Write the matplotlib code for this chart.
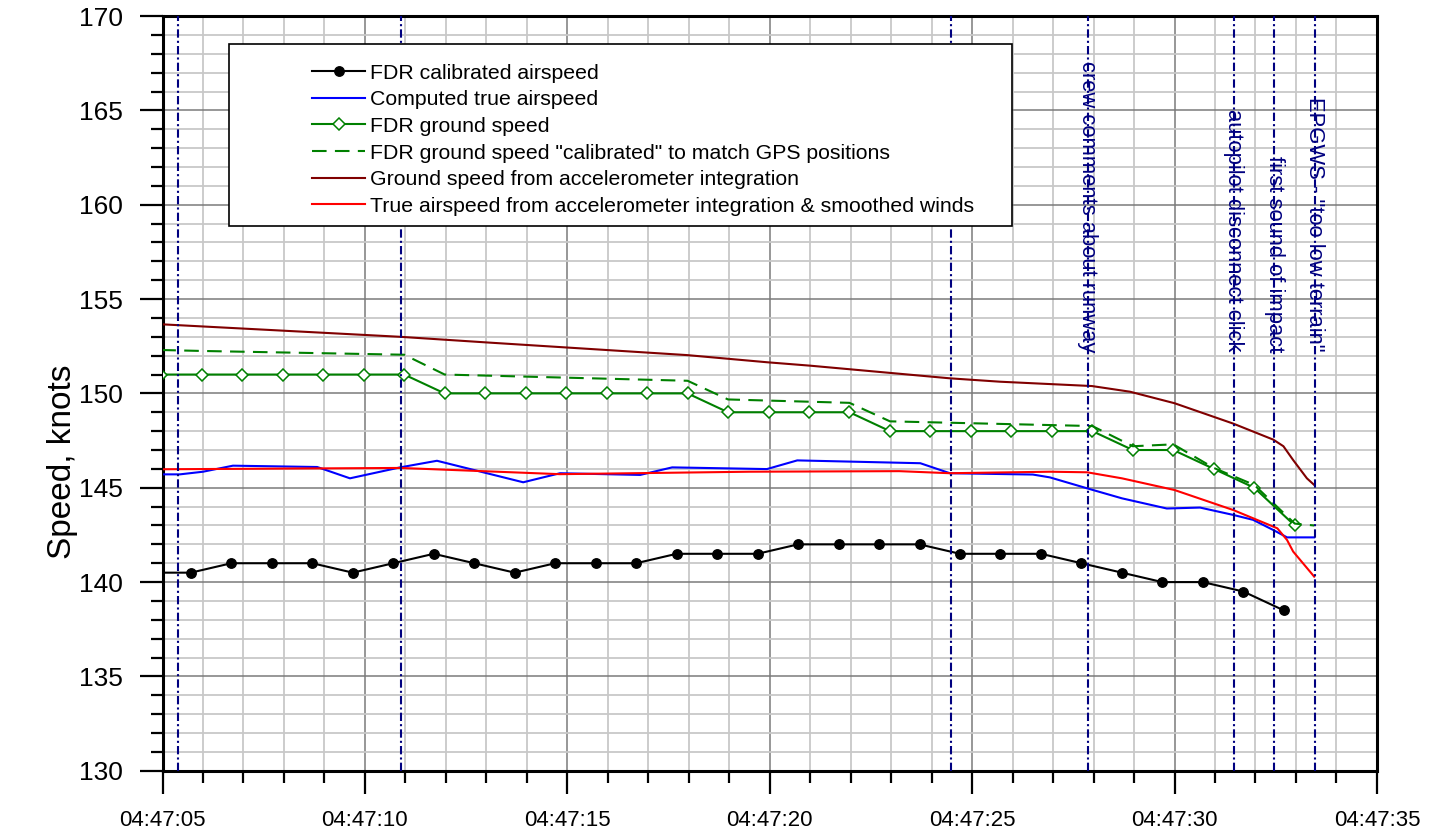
import matplotlib
matplotlib.use('Agg')
import matplotlib.pyplot as plt
from matplotlib.ticker import MultipleLocator, FuncFormatter
from matplotlib.patches import Rectangle

plt.rcParams['font.family'] = ['Liberation Sans', 'DejaVu Sans']

# time is seconds after 04:47:00
cas_t = [4.7, 5.7, 6.7, 7.7, 8.7, 9.7, 10.7, 11.7, 12.7, 13.7, 14.7, 15.7, 16.7, 17.7, 18.7,
         19.7, 20.7, 21.7, 22.7, 23.7, 24.7, 25.7, 26.7, 27.7, 28.7, 29.7, 30.7, 31.7, 32.7]
cas = [140.5, 140.5, 141, 141, 141, 140.5, 141, 141.5, 141, 140.5, 141, 141, 141, 141.5, 141.5,
       141.5, 142, 142, 142, 142, 141.5, 141.5, 141.5, 141, 140.5, 140, 140, 139.5, 138.5]

tas_t = [5.0, 5.43, 6.0, 6.74, 8.82, 9.63, 10.87, 11.78, 13.91, 14.82, 16.8, 17.59, 19.93, 20.68,
         23.72, 24.45, 26.5, 26.92, 27.84, 28.7, 29.81, 30.63, 31.45, 31.94, 32.44, 32.78, 33.45]
tas = [145.71, 145.71, 145.85, 146.17, 146.1, 145.5, 146.08, 146.43, 145.29, 145.77, 145.68, 146.08,
       145.99, 146.45, 146.3, 145.77, 145.7, 145.55, 144.97, 144.44, 143.9, 143.95, 143.56, 143.3,
       142.76, 142.37, 142.37]

gs_t = [4.97, 5.97, 6.97, 7.97, 8.97, 9.97, 10.97, 11.97, 12.97, 13.97, 14.97, 15.97, 16.97, 17.97,
        18.97, 19.97, 20.97, 21.97, 22.97, 23.97, 24.97, 25.97, 26.97, 27.97, 28.97, 29.97, 30.97,
        31.97, 32.97]
gs = [151, 151, 151, 151, 151, 151, 151, 150, 150, 150, 150, 150, 150, 150,
      149, 149, 149, 149, 148, 148, 148, 148, 148, 148, 147, 147, 146, 145, 143]

gs_cal_t = [4.97, 5.97, 10.97, 11.97, 17.97, 18.97, 21.97, 22.97, 27.97, 28.97, 29.97, 30.97,
            31.97, 32.97, 33.45]
gs_cal = [152.3, 152.25, 152.05, 151.0, 150.67, 149.68, 149.5, 148.52, 148.27, 147.2, 147.3,
          146.05, 145.15, 143.1, 143.0]

gs_acc_t = [5.0, 10.87, 13.09, 17.96, 19.94, 21.0, 24.45, 25.69, 27.96, 28.9, 30.0, 31.45, 32.44,
            32.69, 32.93, 33.27, 33.45]
gs_acc = [153.66, 153.0, 152.69, 152.03, 151.65, 151.47, 150.8, 150.62, 150.39, 150.09, 149.48,
          148.4, 147.55, 147.2, 146.47, 145.5, 145.15]

tas_acc_t = [5.0, 10.87, 14.82, 19.5, 23.2, 24.45, 26.92, 27.84, 28.7, 30.0, 31.45, 32.44, 32.54,
             32.78, 32.93, 33.45]
tas_acc = [145.98, 146.05, 145.72, 145.85, 145.88, 145.77, 145.85, 145.82, 145.5, 144.88, 143.82,
           142.94, 142.85, 142.23, 141.62, 140.29]

event_t = [5.38, 10.88, 24.47, 27.86, 31.46, 32.46, 33.46]
event_labels = ['', '', '', 'crew comments about runway', 'autopilot disconnect click',
                'first sound of impact', 'EPGWS - "too low terrain"']

fig = plt.figure(figsize=(14.37, 8.35), dpi=100)
ax = fig.add_axes([0.1131, 0.0769, 0.8451, 0.9039])
ax.set_xlim(5, 35)
ax.set_ylim(130, 170)

ax.xaxis.set_major_locator(MultipleLocator(5))
ax.xaxis.set_minor_locator(MultipleLocator(1))
ax.yaxis.set_major_locator(MultipleLocator(5))
ax.yaxis.set_minor_locator(MultipleLocator(1))
ax.xaxis.set_major_formatter(FuncFormatter(lambda v, p: '04:47:%02d' % int(round(v))))
ax.grid(which='minor', color='#c8c8c8', lw=1.3)
ax.grid(which='major', color='#7a7a7a', lw=1.1)
ax.set_axisbelow(True)

ax.plot(cas_t, cas, color='black', lw=1.5, marker='o', ms=6.8, label='FDR calibrated airspeed', zorder=3)
ax.plot(tas_t, tas, color='#0000ff', lw=1.5, label='Computed true airspeed', zorder=3)
ax.plot(gs_t, gs, color='#008000', lw=1.5, marker='D', ms=6.2, mfc='white', mec='#008000', mew=1.1,
        label='FDR ground speed', zorder=3)
ax.plot(gs_cal_t, gs_cal, color='#008000', lw=1.5, ls=(0, (7, 4)),
        label='FDR ground speed "calibrated" to match GPS positions', zorder=3)
ax.plot(gs_acc_t, gs_acc, color='#800000', lw=1.5,
        label='Ground speed from accelerometer integration', zorder=3)
ax.plot(tas_acc_t, tas_acc, color='#ff0000', lw=1.5,
        label='True airspeed from accelerometer integration & smoothed winds', zorder=3)

for t, lab in zip(event_t, event_labels):
    ax.axvline(t, color='#000080', lw=1.5, ls=(0, (4, 1.5, 1, 1.5)), zorder=3.5)
    if lab:
        ax.text(t, 152.2, lab, rotation=270, ha='center', va='bottom', color='#000080',
                fontsize=15.8, zorder=4)

ax.add_patch(Rectangle((0.0548, 0.7218), 0.6447, 0.2412, transform=ax.transAxes,
                       fc='white', ec='black', lw=1.2, zorder=4.5))
ax.legend(loc='upper left', bbox_to_anchor=(0.1231, 0.937), frameon=False, fontsize=15.3,
          handlelength=2.5, handletextpad=0.25, labelspacing=0.36, borderpad=0,
          borderaxespad=0, numpoints=1).set_zorder(5)

for s in ax.spines.values():
    s.set_linewidth(2.2)
ax.tick_params(which='major', length=16.5, width=1.6, direction='out')
ax.tick_params(which='minor', length=8.6, width=1.6, direction='out')
ax.tick_params(axis='x', labelsize=16, pad=12)
ax.tick_params(axis='y', labelsize=19, pad=12)

ax.set_ylabel('Speed, knots', fontsize=24)
ax.yaxis.set_label_coords(-0.07, 0.41)

fig.savefig('out.png', dpi=100)
